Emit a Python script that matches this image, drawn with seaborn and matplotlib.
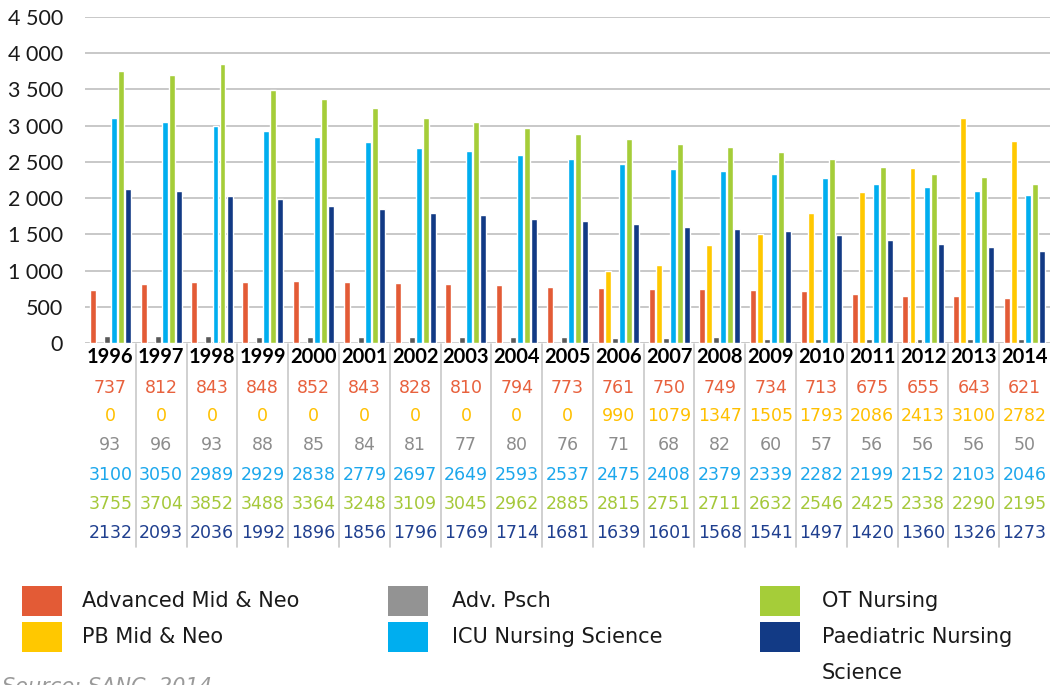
import numpy as np
import pandas as pd
import seaborn as sns
import matplotlib
matplotlib.use("Agg")
import matplotlib.pyplot as plt
from matplotlib.patches import Rectangle
from matplotlib.ticker import FuncFormatter
import matplotlib.transforms as mtransforms

# data (data table under the bars)
years = [str(y) for y in range(1996, 2015)]
adv_mid_neo = [737, 812, 843, 848, 852, 843, 828, 810, 794, 773, 761, 750, 749, 734, 713, 675, 655, 643, 621]
pb_mid_neo = [0, 0, 0, 0, 0, 0, 0, 0, 0, 0, 990, 1079, 1347, 1505, 1793, 2086, 2413, 3100, 2782]
adv_psch = [93, 96, 93, 88, 85, 84, 81, 77, 80, 76, 71, 68, 82, 60, 57, 56, 56, 56, 50]
icu_nursing = [3100, 3050, 2989, 2929, 2838, 2779, 2697, 2649, 2593, 2537, 2475, 2408, 2379, 2339, 2282, 2199, 2152, 2103, 2046]
ot_nursing = [3755, 3704, 3852, 3488, 3364, 3248, 3109, 3045, 2962, 2885, 2815, 2751, 2711, 2632, 2546, 2425, 2338, 2290, 2195]
paed_nursing = [2132, 2093, 2036, 1992, 1896, 1856, 1796, 1769, 1714, 1681, 1639, 1601, 1568, 1541, 1497, 1420, 1360, 1326, 1273]

series_names = ["Advanced Mid & Neo", "PB Mid & Neo", "Adv. Psch",
                "ICU Nursing Science", "OT Nursing", "Paediatric Nursing\nScience"]
series_vals = [adv_mid_neo, pb_mid_neo, adv_psch, icu_nursing, ot_nursing, paed_nursing]
bar_colors = ["#E35B36", "#FFC800", "#595959", "#00AEEF", "#A5CD39", "#123A85"]
key_colors = ["#E35B36", "#FFC800", "#939393", "#00AEEF", "#A5CD39", "#123A85"]
text_colors = ["#E8613D", "#FFC000", "#8C8C8C", "#1CA7EC", "#A5C83A", "#1F3F8F"]

df = pd.DataFrame({
    "year": np.tile(years, len(series_names)),
    "series": np.repeat(series_names, len(years)),
    "value": np.concatenate(series_vals),
})

sns.set_theme(style="white")
plt.rcParams["font.family"] = ["Lato", "DejaVu Sans"]
wide = ["DejaVu Sans"]

fig = plt.figure(figsize=(10.55, 6.85), dpi=100)
ax = fig.add_axes([85 / 1055, 342 / 685, 965 / 1055, 326 / 685])

sns.barplot(data=df, x="year", y="value", hue="series", hue_order=series_names,
            palette=bar_colors, saturation=1, width=0.83, gap=0.15,
            legend=False, ax=ax, zorder=3)

ax.set_ylim(0, 4500)
ax.set_xlim(-0.5, len(years) - 0.5)
ax.set_yticks(np.arange(0, 4501, 500))
ax.yaxis.set_major_formatter(FuncFormatter(lambda v, p: f"{int(v):,}".replace(",", " ")))
ax.tick_params(axis="y", labelsize=15.5, pad=16, length=0, labelcolor="#1a1a1a")
ax.set_xticks([])
ax.set_xlabel("")
ax.set_ylabel("")
ax.grid(axis="y", color="#C4C4C4", linewidth=1.3, zorder=0)
for s in ax.spines.values():
    s.set_visible(False)
ax.set_facecolor("none")

# data table below the axis
trans = mtransforms.blended_transform_factory(ax.transData, fig.transFigure)
row_py = [388, 416, 445, 475, 504, 533]
for i, yr in enumerate(years):
    ax.text(i, 1 - 357 / 685, yr, transform=trans, ha="center", va="center",
            fontsize=14.5, fontweight="bold", color="black")
    for vals, col, py in zip(series_vals, text_colors, row_py):
        ax.text(i, 1 - py / 685, str(vals[i]), transform=trans, ha="center",
                va="center", fontsize=12.5, color=col, family=wide)
for i in range(len(years) - 1):
    ax.plot([i + 0.5, i + 0.5], [1 - 344 / 685, 1 - 547 / 685], transform=trans,
            color="#C8C8C8", linewidth=1.2, clip_on=False)

# legend (3 columns x 2 rows)
key_x = [22, 388, 760]
text_x = [82, 452, 822]
key_py = [601, 637]
for k, (name, col) in enumerate(zip(series_names, key_colors)):
    c, r = k // 2, k % 2
    fig.patches.append(Rectangle((key_x[c] / 1055, 1 - (key_py[r] + 15) / 685),
                                 40 / 1055, 30 / 685, transform=fig.transFigure,
                                 facecolor=col, edgecolor="none"))
    lines = name.split("\n")
    for j, line in enumerate(lines):
        fig.text(text_x[c] / 1055, 1 - (key_py[r] + 36 * j) / 685, line,
                 ha="left", va="center", fontsize=15, color="#1a1a1a", family=wide)

fig.text(2 / 1055, 1 - 687 / 685, "Source: SANC, 2014", ha="left", va="center",
         fontsize=15, style="italic", color="#9A9A9A", family=wide)

fig.savefig("out.png", dpi=100)
